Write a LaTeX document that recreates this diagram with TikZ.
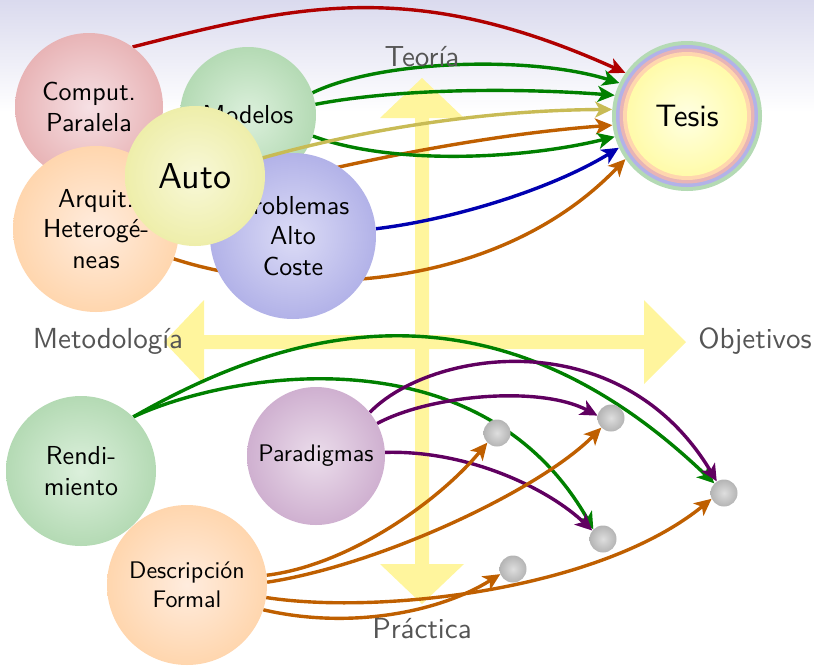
\documentclass[tikz,border=0pt]{standalone}
\usepackage{fontspec}
\setsansfont{lmsans10-regular.otf}
\usetikzlibrary{arrows.meta}

\pgfdeclarelayer{bg}
\pgfdeclarelayer{links}
\pgfsetlayers{bg,links,main}

% node fills: edge colour and lighter core
\definecolor{redfill}{HTML}{E8B4B6}
\definecolor{redcore}{HTML}{F6E0E4}
\definecolor{greenfill}{HTML}{B4DAB4}
\definecolor{greencore}{HTML}{DCF0DC}
\definecolor{orangefill}{HTML}{FFD6AE}
\definecolor{orangecore}{HTML}{FFECDE}
\definecolor{bluefill}{HTML}{B2B2E8}
\definecolor{bluecore}{HTML}{DCDCF6}
\definecolor{purplefill}{HTML}{CFB0D0}
\definecolor{purplecore}{HTML}{EBDDEB}
\definecolor{autofill}{HTML}{EEEEAA}
\definecolor{autocore}{HTML}{F8F8D8}
\definecolor{tesisfill}{HTML}{FFFBAA}
\definecolor{tesiscore}{HTML}{FFFFE2}
\definecolor{dotfill}{HTML}{B4B4B4}
\definecolor{dotcore}{HTML}{DEDEDE}
% rings round the thesis node
\definecolor{ringgreen}{HTML}{B4DAB4}
\definecolor{ringblue}{HTML}{B2B2E8}
\definecolor{ringred}{HTML}{E8B4B6}
\definecolor{ringorange}{HTML}{FFD6AE}
% axes and background
\definecolor{crossyellow}{HTML}{FFF59D}
\definecolor{skyband}{HTML}{DADAEE}
\definecolor{labelgray}{HTML}{555555}
% connectors
\definecolor{linkred}{HTML}{B00000}
\definecolor{linkgreen}{HTML}{008000}
\definecolor{linkkhaki}{HTML}{C8BB55}
\definecolor{linkorange}{HTML}{BF5F00}
\definecolor{linkblue}{HTML}{0000B0}
\definecolor{linkpurple}{HTML}{600060}

\tikzset{
  ball/.style={circle, inner sep=0pt, align=center, shading=radial,
    font=\sffamily\fontsize{26}{30.5}\selectfont},
  redball/.style={ball, inner color=redcore, outer color=redfill},
  greenball/.style={ball, inner color=greencore, outer color=greenfill},
  orangeball/.style={ball, inner color=orangecore, outer color=orangefill},
  blueball/.style={ball, inner color=bluecore, outer color=bluefill},
  purpleball/.style={ball, inner color=purplecore, outer color=purplefill},
  autoball/.style={ball, inner color=autocore, outer color=autofill},
  grayball/.style={circle, inner sep=0pt, minimum size=27pt, shading=radial,
    inner color=dotcore, outer color=dotfill},
  axislabel/.style={text=labelgray, font=\sffamily\fontsize{29}{33}\selectfont},
  link/.style={line width=3.4pt, -{Stealth[length=17pt,width=16pt,inset=4.5pt]}},
}

\begin{document}
\begin{tikzpicture}[x=1pt,y=-1pt]
\useasboundingbox (0,0) rectangle (814,665);

\begin{pgfonlayer}{bg}
  % soft band along the top edge
  \shade[top color=skyband, bottom color=white] (0,0) rectangle (814,112);
  % the two crossing axes with arrow heads
  \fill[crossyellow]
    (415,118) -- (380,118) -- (422,78) -- (464,118) -- (429,118)
    -- (429,335) -- (644,335) -- (644,300) -- (686,342) -- (644,384)
    -- (644,349) -- (429,349) -- (429,564) -- (464,564) -- (422,604)
    -- (380,564) -- (415,564) -- (415,349) -- (204,349) -- (204,384)
    -- (164,342) -- (204,300) -- (204,335) -- (415,335) -- cycle;
\end{pgfonlayer}

% axis labels
\node[axislabel] (teo) at (422,57) {Teoría};
\node[axislabel] (pra) at (422,629) {Práctica};
\node[axislabel] (met) at (108,341) {Metodología};
\node[axislabel] (obj) at (755,341) {Objetivos};

% upper group
\node[redball, minimum size=148pt] (cp) at (89,107) {Comput.\\Paralela};
\node[greenball, minimum size=136pt] (mod) at (248,115) {Modelos};
\node[orangeball, minimum size=166pt] (arq) at (96,229) {Arquit.\\Heterogé-\\neas};
\node[blueball, minimum size=166pt] (prob) at (293,236) {Problemas\\Alto\\Coste};
\node[autoball, minimum size=140pt, font=\sffamily\fontsize{36}{40}\selectfont] (auto) at (195,176) {Auto};

% thesis node with coloured rings
\node[circle, inner sep=0pt, minimum size=150pt, fill=ringgreen,
  font=\sffamily\fontsize{31}{36}\selectfont,
  path picture={
    \fill[ringblue] (path picture bounding box.center) circle (71pt);
    \fill[ringred] (path picture bounding box.center) circle (67.5pt);
    \fill[ringorange] (path picture bounding box.center) circle (64pt);
    \shade[inner color=tesiscore, outer color=tesisfill]
      (path picture bounding box.center) circle (60pt);
  }] (tesis) at (687,116) {Tesis};

% lower group
\node[greenball, minimum size=150pt] (ren) at (81,471) {Rendi-\\miento};
\node[purpleball, minimum size=138pt, font=\sffamily\fontsize{24}{29}\selectfont] (par) at (316,456) {Paradigmas};
\node[orangeball, minimum size=160pt, font=\sffamily\fontsize{24}{29}\selectfont] (des) at (187,585) {Descripción\\Formal};

\node[grayball] (d1) at (497,433) {};
\node[grayball] (d2) at (611,418) {};
\node[grayball] (d3) at (603,539) {};
\node[grayball] (d4) at (513,569) {};
\node[grayball] (d5) at (724,493) {};

% the link from Auto runs over the Modelos disc
\draw[link, linkkhaki] (auto.15) .. controls (380,125) and (500,110) .. (tesis.175);

\begin{pgfonlayer}{links}
  % into the thesis
  \draw[link, linkred] (cp.54) .. controls (300,4) and (415,-22) .. (tesis.145);
  \draw[link, linkgreen] (mod.19) .. controls (380,60) and (530,55) .. (tesis.154);
  \draw[link, linkgreen] (mod.9) .. controls (400,88) and (520,88) .. (tesis.164);
  \draw[link, linkorange] (arq.15) .. controls (330,165) and (480,135) .. (tesis.187);
  \draw[link, linkgreen] (mod.-18) .. controls (390,165) and (520,160) .. (tesis.196);
  \draw[link, linkblue] (prob.5) .. controls (450,220) and (550,190) .. (tesis.205);
  \draw[link, linkorange] (arq.-21) .. controls (300,300) and (500,290) .. (tesis.215);

  % lower connectors
  \draw[link, linkgreen] (ren.46) .. controls (280,333) and (487,265) .. (d5.135);
  \draw[link, linkgreen] (ren.46) .. controls (230,372) and (480,330) .. (d3.135);
  \draw[link, linkpurple] (par.39) .. controls (430,350) and (620,320) .. (d5.122);
  \draw[link, linkpurple] (par.28) .. controls (430,395) and (540,385) .. (d2.170);
  \draw[link, linkpurple] (par.3) .. controls (470,450) and (550,490) .. (d3.142);
  \draw[link, linkorange] (des.7) .. controls (350,565) and (440,500) .. (d1.225);
  \draw[link, linkorange] (des.2) .. controls (380,565) and (540,490) .. (d2.225);
  \draw[link, linkorange] (des.-9) .. controls (380,615) and (600,590) .. (d5.205);
  \draw[link, linkorange] (des.-18) .. controls (350,630) and (440,612) .. (d4.202);
\end{pgfonlayer}
\end{tikzpicture}
\end{document}
